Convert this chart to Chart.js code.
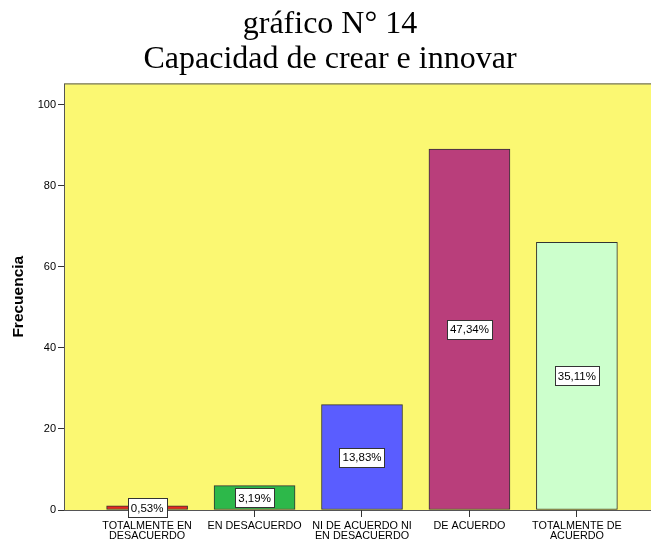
<!DOCTYPE html>
<html>
<head>
<meta charset="utf-8">
<script src="https://cdn.jsdelivr.net/npm/chart.js@4.4.1/dist/chart.umd.min.js"></script>
<style>
  html, body { margin: 0; padding: 0; background: #ffffff; overflow: hidden; }
  #wrap { position: relative; width: 660px; height: 552px; }
</style>
</head>
<body>
<div id="wrap"><canvas id="chart"></canvas></div>
<script>
// categories and counts (n = 188)
const CATEGORIES = [
  ["TOTALMENTE EN", "DESACUERDO"],
  ["EN DESACUERDO"],
  ["NI DE ACUERDO NI", "EN DESACUERDO"],
  ["DE ACUERDO"],
  ["TOTALMENTE DE", "ACUERDO"]
];
const COUNTS = [1, 6, 26, 89, 66];
const BAR_COLORS = ["#e8281e", "#2db84a", "#5a5dff", "#b93e7b", "#ccffcc"];
const Y_TICKS = [0, 20, 40, 60, 80, 100];
const TITLE_LINES = ["gráfico N° 14", "Capacidad de crear e innovar"];
const Y_TITLE = "Frecuencia";

const total = COUNTS.reduce((s, v) => s + v, 0);
const pctLabels = COUNTS.map((v) => (v / total * 100).toFixed(2).replace(".", ",") + "%");

const sansFont = "'Liberation Sans', Arial, sans-serif";

// yellow plot background with frame
const plotBackground = {
  id: "plotBackground",
  beforeDraw(chart) {
    const { ctx, chartArea: a } = chart;
    ctx.save();
    ctx.fillStyle = "#fbf872";
    ctx.fillRect(a.left, a.top, a.right - a.left, a.bottom - a.top);
    ctx.strokeStyle = "#555555";
    ctx.lineWidth = 1;
    ctx.strokeRect(a.left + 0.5, a.top + 0.5, a.right - a.left, a.bottom - a.top);
    ctx.restore();
  }
};

// boxed percentage in the middle of each bar
const boxedLabels = {
  id: "boxedLabels",
  afterDatasetsDraw(chart) {
    const { ctx } = chart;
    const meta = chart.getDatasetMeta(0);
    ctx.save();
    ctx.font = "11.5px " + sansFont;
    ctx.textAlign = "center";
    ctx.textBaseline = "middle";
    meta.data.forEach((bar, i) => {
      const text = pctLabels[i];
      const cx = bar.x;
      const cy = (bar.y + bar.base) / 2;
      const w = Math.round(ctx.measureText(text).width + 6);
      const h = 19;
      const left = Math.round(cx - w / 2) + 0.5;
      const top = Math.round(cy - h / 2) + 0.5;
      ctx.fillStyle = "#ffffff";
      ctx.fillRect(left, top, w, h);
      ctx.strokeStyle = "#333333";
      ctx.lineWidth = 1;
      ctx.strokeRect(left, top, w, h);
      ctx.fillStyle = "#000000";
      ctx.fillText(text, cx, cy + 1);
    });
    ctx.restore();
  }
};

new Chart(document.getElementById("chart").getContext("2d"), {
  type: "bar",
  data: {
    datasets: [
      {
        label: "Frecuencia",
        data: COUNTS.map((v, i) => ({ x: i + 1, y: v })),
        backgroundColor: BAR_COLORS,
        borderColor: "#333333",
        borderWidth: 1,
        borderSkipped: false,
        barThickness: 81
      }
    ]
  },
  options: {
    responsive: true,
    maintainAspectRatio: false,
    animation: false,
    layout: {
      padding: { top: 0, right: 0, bottom: 0, left: 0 }
    },
    scales: {
      x: {
        type: "linear",
        offset: false,
        min: 0.2265,
        max: 5.7735,
        afterBuildTicks: (scale) => {
          scale.ticks = CATEGORIES.map((_, i) => ({ value: i + 1 }));
        },
        afterFit: (scale) => {
          scale.height = 42;
        },
        ticks: {
          autoSkip: false,
          maxRotation: 0,
          padding: 4,
          color: "#000000",
          font: { family: sansFont, size: 10.8, lineHeight: 0.95 },
          callback: (value) => CATEGORIES[value - 1] || ""
        },
        grid: {
          offset: false,
          drawOnChartArea: false,
          drawTicks: true,
          tickLength: 7,
          color: "#333333"
        },
        border: { display: false }
      },
      y: {
        min: 0,
        max: 105.2,
        afterBuildTicks: (scale) => {
          scale.ticks = Y_TICKS.map((v) => ({ value: v }));
        },
        afterFit: (scale) => {
          scale.width = 64;
        },
        title: {
          display: true,
          text: Y_TITLE,
          color: "#000000",
          padding: { top: 9, bottom: 0 },
          font: { family: sansFont, size: 15.5, weight: "bold" }
        },
        ticks: {
          color: "#000000",
          padding: 2,
          font: { family: sansFont, size: 11 }
        },
        grid: {
          drawOnChartArea: false,
          drawTicks: true,
          tickLength: 6,
          color: "#333333"
        },
        border: { display: false }
      }
    },
    plugins: {
      legend: { display: false },
      tooltip: { enabled: false },
      title: {
        display: true,
        text: TITLE_LINES,
        color: "#000000",
        padding: { top: 7, bottom: 6 },
        font: { family: "'Liberation Serif', 'Times New Roman', serif", size: 32, weight: "normal", lineHeight: 1.1 }
      }
    }
  },
  plugins: [plotBackground, boxedLabels]
});
</script>
</body>
</html>
